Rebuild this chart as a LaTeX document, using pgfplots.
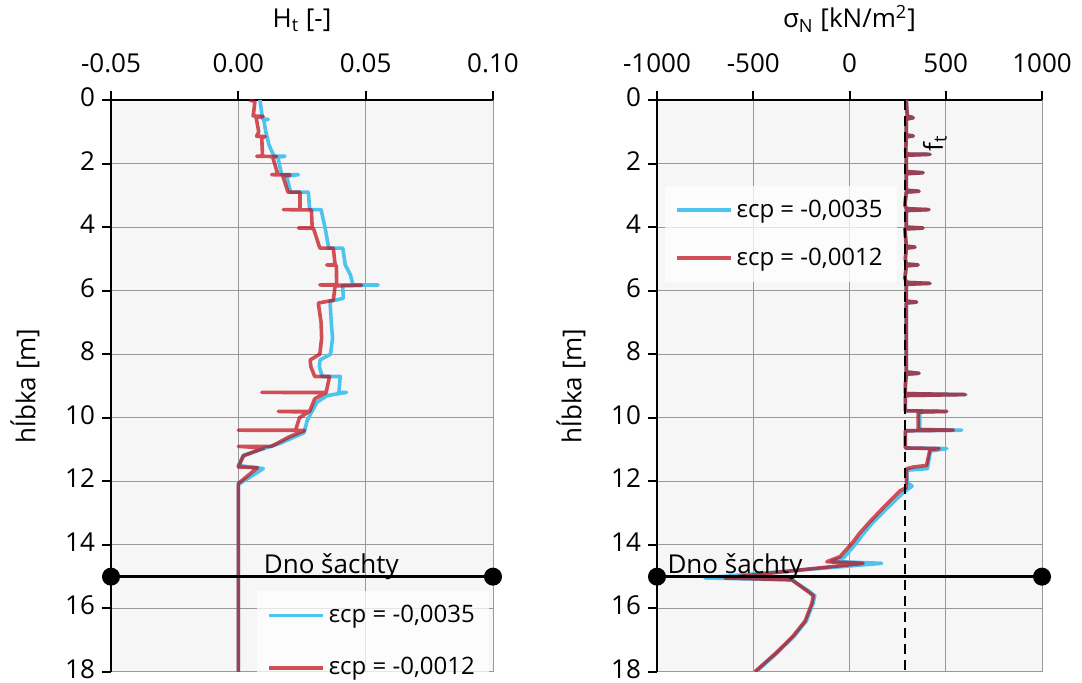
\documentclass[border=0pt]{standalone}
\usepackage{fontspec}
\setmainfont{Open Sans}
\usepackage{pgfplots}
\pgfplotsset{compat=1.18}
\definecolor{cblue}{RGB}{77,196,238}
\definecolor{cred}{RGB}{192,8,18}
\definecolor{bg}{RGB}{246,246,246}
\pgfplotsset{
  myax/.style={
    scale only axis, height=286pt,
    y dir=reverse, ymin=0, ymax=18,
    ytick={0,2,...,18}, yticklabels={0,2,4,6,8,10,12,14,16,18},
    axis x line*=top, axis y line*=left,
    tick align=outside, major tick length=4.5pt,
    grid=major, grid style={black!40, line width=0.5pt},
    axis line style={line width=1pt, black},
    tick style={line width=1pt, black},
    axis background/.style={fill=bg},
    ticklabel style={font=\fontsize{13}{15}\selectfont},
    xticklabel style={yshift=5.5pt},
    yticklabel style={yshift=1.4pt},
    label style={font=\fontsize{13}{15}\selectfont},
    xlabel style={yshift=4pt},
    ylabel={hĺbka [m]}, ylabel shift=6pt,
    scaled x ticks=false,
    clip mode=individual,
    legend cell align=left,
    legend image code/.code={\draw[#1] (0pt,0pt) -- (27pt,0pt);},
    legend style={draw=none, fill=white, fill opacity=0.75, text opacity=1,
      row sep=12pt, inner sep=5pt, font=\fontsize{12}{14}\selectfont},
  },
  bl/.style={cblue, line width=1.8pt, line join=round},
  rd/.style={cred, line width=1.8pt, opacity=0.7, line join=round},
}
\begin{document}
\begin{tikzpicture}
\useasboundingbox (0,0) rectangle (541pt,341.5pt);
% ---------------- left axis
\begin{axis}[myax, at={(55.5pt,291.5pt)}, anchor=north west, width=191pt,
  xmin=-0.05, xmax=0.10, xtick={-0.05,0,0.05,0.10}, xticklabels={-0.05,0.00,0.05,0.10},
  xlabel={H\textsubscript{t} [-]},
  legend style={at={(axis description cs:0.99,0.142)}, anchor=north east}]
\addplot[bl] table {
0.0085 0
0.0090 0.3
0.0095 0.6
0.0118 0.61
0.0100 0.63
0.0108 1.0
0.0120 1.4
0.0140 1.77
0.0183 1.77
0.0155 1.8
0.0170 2.35
0.0236 2.35
0.0190 2.4
0.0205 2.9
0.0275 2.9
0.0280 3.45
0.0325 3.45
0.0340 4.0
0.0355 4.66
0.0410 4.66
0.0420 5.19
0.0440 5.5
0.0450 5.82
0.0549 5.82
0.0410 5.84
0.0412 6.24
0.0360 6.34
0.0365 7.0
0.0370 7.5
0.0362 8.0
0.0321 8.18
0.0318 8.4
0.0330 8.7
0.0400 8.7
0.0395 9.2
0.0425 9.2
0.0350 9.3
0.0310 9.5
0.0285 9.86
0.0270 10.1
0.0258 10.47
0.0165 10.8
0.0020 11.18
0.0000 11.5
0.0098 11.6
0.0005 12.07
0.0000 12.1
0.0000 18
};
\addlegendentry{εcp = -0,0035}
\addplot[rd] table {
0.0045 0
0.0065 0.05
0.0060 0.4
0.0058 0.5
0.0098 0.52
0.0070 0.55
0.0080 1.0
0.0072 1.14
0.0105 1.15
0.0092 1.2
0.0095 1.76
0.0072 1.77
0.0150 1.78
0.0135 1.8
0.0155 2.34
0.0131 2.35
0.0203 2.36
0.0175 2.4
0.0195 2.9
0.0242 2.9
0.0242 3.45
0.0177 3.45
0.0287 3.46
0.0290 4.02
0.0236 4.03
0.0295 4.04
0.0320 4.66
0.0373 4.66
0.0380 5.18
0.0347 5.19
0.0385 5.2
0.0386 5.81
0.0320 5.82
0.0484 5.83
0.0380 5.85
0.0373 6.3
0.0314 6.39
0.0325 7.0
0.0327 7.5
0.0320 8.0
0.0282 8.18
0.0285 8.4
0.0300 8.7
0.0358 8.7
0.0345 9.2
0.0092 9.2
0.0345 9.21
0.0300 9.4
0.0280 9.8
0.0157 9.8
0.0275 9.82
0.0240 10.0
0.0225 10.39
0.0000 10.39
0.0260 10.40
0.0200 10.6
0.0130 10.9
0.0000 10.9
0.0100 10.95
0.0020 11.2
0.0000 11.55
0.0075 11.57
0.0000 12.07
0.0000 18
};
\addlegendentry{εcp = -0,0012}
\addplot[black, line width=1.4pt, mark=*, mark size=3.8pt, forget plot] coordinates {(-0.05,15) (0.10,15)};
\node[anchor=base, font=\fontsize{13}{15}\selectfont, inner sep=0pt] at (axis cs:0.0365,14.9) {Dno šachty};
\end{axis}
% ---------------- right axis
\begin{axis}[myax, at={(328.5pt,291.5pt)}, anchor=north west, width=192.5pt,
  xmin=-1000, xmax=1000, xtick={-1000,-500,0,500,1000}, xticklabels={-1000,-500,0,500,1000},
  xlabel={σ\textsubscript{N} [kN/m\textsuperscript{2}]},
  legend style={at={(axis description cs:0.02,0.851)}, anchor=north west, row sep=10pt}]
\addplot[bl] table {
295 0
300 0.5
331 0.56
295 0.6
295 1.1
331 1.13
295 1.16
292 1.6
295 1.7
418 1.71
295 1.74
295 2.25
382 2.29
295 2.32
295 2.84
361 2.87
295 2.9
288 3.3
295 3.42
413 3.45
295 3.48
295 4.0
382 4.03
288 4.06
295 4.6
340 4.63
295 4.66
290 5.0
295 5.16
356 5.19
295 5.22
288 5.6
295 5.74
418 5.77
295 5.8
295 6.33
349 6.36
295 6.39
295 8.56
361 8.6
295 8.63
290 9.0
290 9.24
605 9.27
290 9.3
290 9.78
505 9.8
365 9.82
365 10.37
583 10.39
290 10.41
290 10.95
505 10.97
420 11.05
405 11.6
297 11.65
300 12.05
325 12.15
280 12.35
195 12.85
120 13.3
65 13.7
35 13.95
-30 14.4
-95 14.52
167 14.58
-751 15.04
-300 15.1
-215 15.44
-180 15.6
-190 15.85
-225 16.4
-286 16.86
-372 17.38
-485 17.99
};
\addlegendentry{εcp = -0,0035}
\addplot[rd] table {
295 0
300 0.5
331 0.56
295 0.6
295 1.1
331 1.13
295 1.16
292 1.6
295 1.7
418 1.71
295 1.74
295 2.25
382 2.29
295 2.32
295 2.84
361 2.87
295 2.9
288 3.3
295 3.42
413 3.45
295 3.48
295 4.0
382 4.03
288 4.06
295 4.6
340 4.63
295 4.66
290 5.0
295 5.16
356 5.19
295 5.22
288 5.6
295 5.74
418 5.77
295 5.8
295 6.33
349 6.36
295 6.39
295 8.56
361 8.6
295 8.63
290 9.0
290 9.24
600 9.27
290 9.3
290 9.78
505 9.8
357 9.82
357 10.37
540 10.39
290 10.41
290 10.95
465 10.97
418 11.0
400 11.5
331 11.55
297 11.6
295 12.2
262 12.3
180 12.8
106 13.27
50 13.65
20 13.9
-49 14.37
-118 14.53
70 14.58
-647 15.04
-300 15.1
-222 15.44
-188 15.6
-196 15.85
-231 16.4
-292 16.86
-378 17.38
-491 17.99
};
\addlegendentry{εcp = -0,0012}
\addplot[black, line width=1.4pt, mark=*, mark size=3.8pt, forget plot] coordinates {(-1000,15) (1000,15)};
\addplot[black, line width=1pt, dash pattern=on 5pt off 3pt, forget plot] coordinates {(290,0) (290,18)};
\node[anchor=base, font=\fontsize{13}{15}\selectfont, inner sep=0pt] at (axis cs:-595,14.9) {Dno šachty};
\node[rotate=90, font=\fontsize{13}{15}\selectfont, inner sep=0pt] at (axis cs:444,1.35) {f\textsubscript{t}};
\end{axis}
\end{tikzpicture}
\end{document}
